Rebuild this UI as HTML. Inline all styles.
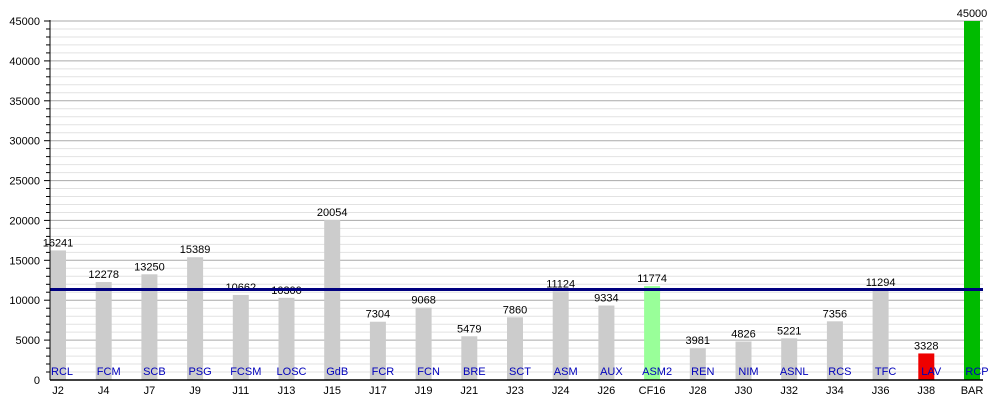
<!DOCTYPE html>
<html><head><meta charset="utf-8"><style>body{margin:0;background:#fff}</style></head><body>
<svg id="c" width="1000" height="400" xmlns="http://www.w3.org/2000/svg" font-family="Liberation Sans, sans-serif"></svg>
<script>
const s=document.getElementById('c');let h='';
const y0=380,k=359/45000,L=50,R=983;
for(let v=1000;v<=45000;v+=1000){const y=(y0-v*k).toFixed(1);const maj=v%5000==0;
h+=`<line x1="${L}" x2="${R}" y1="${y}" y2="${y}" stroke="${maj?'#aaa':'#e2e2e2'}" stroke-width="1"/>`;
h+=`<line x1="${maj?44:46}" x2="${L}" y1="${y}" y2="${y}" stroke="#000"/>`;
if(maj)h+=`<text x="40" y="${+y+4}" font-size="11" text-anchor="end">${v}</text>`;}
h+=`<text x="40" y="384" font-size="11" text-anchor="end">0</text>`;
const d=[["J2","RCL",16241],["J4","FCM",12278],["J7","SCB",13250],["J9","PSG",15389],["J11","FCSM",10662],["J13","LOSC",10300],["J15","GdB",20054],["J17","FCR",7304],["J19","FCN",9068],["J21","BRE",5479],["J23","SCT",7860],["J24","ASM",11124],["J26","AUX",9334],["CF16","ASM2",11774],["J28","REN",3981],["J30","NIM",4826],["J32","ASNL",5221],["J34","RCS",7356],["J36","TFC",11294],["J38","LAV",3328],["BAR","RCP",45000]];
d.forEach((e,i)=>{const x=L+i*45.7,c=x+8,hh=e[2]*k;
const col=e[0]=="CF16"?"#99ff99":e[0]=="J38"?"#ee0000":e[0]=="BAR"?"#00bb00":"#cccccc";
h+=`<rect x="${x}" y="${y0-hh}" width="16" height="${hh}" fill="${col}"/>`;
h+=`<text x="${c}" y="${y0-hh-4}" font-size="11" text-anchor="middle">${e[2]}</text>`;
h+=`<text x="${c}" y="394" font-size="11" text-anchor="middle">${e[0]}</text>`;
h+=`<text x="${i==0?51:c+5}" y="375" font-size="11" fill="#0000bb" text-anchor="${i==0?'start':'middle'}">${e[1]}</text>`;});
h+=`<line x1="${L}" x2="${R}" y1="289.5" y2="289.5" stroke="#000080" stroke-width="3"/>`;
h+=`<line x1="${L}" x2="${L}" y1="20" y2="${y0}" stroke="#000"/><line x1="${L}" x2="${R}" y1="${y0}" y2="${y0}" stroke="#000" stroke-width="1.5"/>`;
s.innerHTML=h;
</script></body></html>
